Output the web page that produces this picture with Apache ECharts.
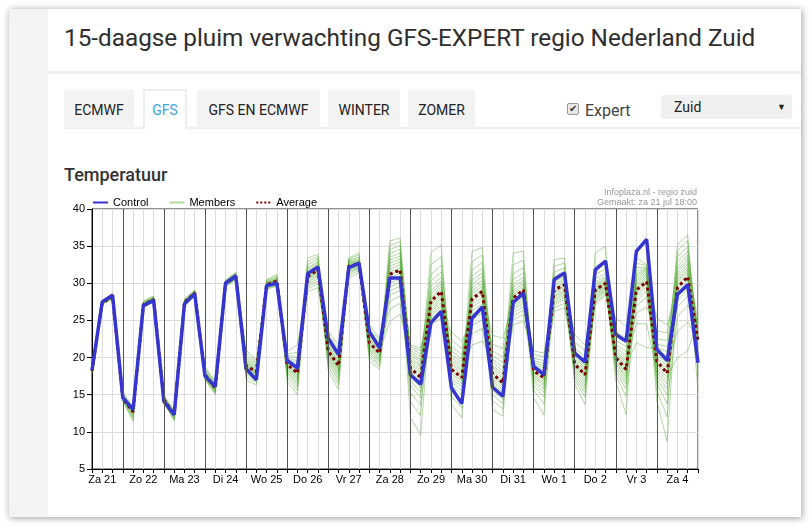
<!DOCTYPE html>
<html><head><meta charset="utf-8">
<script src="https://cdn.jsdelivr.net/npm/echarts@6/dist/echarts.min.js"></script>
<style>
html,body{margin:0;padding:0;width:809px;height:526px;overflow:hidden;background:#fff;font-family:Roboto,Arial,sans-serif;}
#card{position:absolute;left:9px;top:9px;width:792px;height:508px;background:#fff;box-shadow:1px 1px 7px rgba(0,0,0,0.4);}
#strip{position:absolute;left:9px;top:9px;width:39px;height:508px;background:#f3f3f3;}
#title{position:absolute;left:64px;top:24px;line-height:28px;font-size:24.3px;color:#2e2e2e;white-space:nowrap;}
#sep{position:absolute;left:48px;top:71px;width:753px;height:3px;background:#f0f0f0;}
.tab{position:absolute;top:90px;height:38px;line-height:40px;background:#f3f3f3;font-size:14px;color:#222;text-align:center;box-sizing:border-box;}
.tab.active{background:#fff;border:2px solid #eee;border-bottom:none;color:#3aa5dc;top:89px;height:40px;line-height:39px;}
#tabline{position:absolute;left:64px;top:127px;width:737px;height:2px;background:#eee;}
#expert{position:absolute;left:567px;top:101px;font-size:16px;color:#444;line-height:20px;white-space:nowrap;}
#cb{display:inline-block;width:10px;height:10px;border:1px solid #999;background:#e8e8e8;border-radius:2px;vertical-align:1px;margin-right:6px;position:relative;}
#cb:after{content:"\2714";position:absolute;left:1px;top:-5px;font-size:10px;color:#333;font-family:"DejaVu Sans";}
#sel{position:absolute;left:661px;top:95px;width:131px;height:24px;background:#f0f0f0;border-radius:2px;font-size:14px;color:#222;line-height:24px;}
#sel span.t{position:absolute;left:13px;}
#sel span.a{position:absolute;right:6px;font-size:9px;}
#sub{position:absolute;left:64px;top:163px;font-size:18px;font-weight:500;color:#333;line-height:24px;}
#chart{position:absolute;left:0;top:0;width:809px;height:526px;}
</style></head>
<body>
<div id="card"></div>
<div id="strip"></div>
<div id="title">15-daagse pluim verwachting GFS-EXPERT regio Nederland Zuid</div>
<div id="sep"></div>
<div id="tabline"></div>
<div class="tab" style="left:64px;width:70px;">ECMWF</div>
<div class="tab active" style="left:143px;width:44px;">GFS</div>
<div class="tab" style="left:197px;width:123px;">GFS EN ECMWF</div>
<div class="tab" style="left:328px;width:72px;">WINTER</div>
<div class="tab" style="left:408px;width:67px;">ZOMER</div>
<div id="expert"><span id="cb"></span>Expert</div>
<div id="sel"><span class="t">Zuid</span><span class="a">&#9660;</span></div>
<div id="sub">Temperatuur</div>
<div id="chart"></div>
<script>
// Day labels (one per day, centred at noon)
const dayLabels = ['Za 21','Zo 22','Ma 23','Di 24','Wo 25','Do 26','Vr 27','Za 28','Zo 29','Ma 30','Di 31','Wo 1','Do 2','Vr 3','Za 4'];
// Forecast times in hours after Za 21 00:00
const hours = [6,12,18,24,30,36,42,48,54,60,66,72,78,84,90,96,102,108,114,120,126,132,138,144,150,156,162,168,174,180,186,192,198,204,210,216,222,228,234,240,246,252,258,264,270,276,282,288,294,300,306,312,318,324,330,336,342,348,354,360];
const yTicks = [5,10,15,20,25,30,35,40];
const control = [18.3,27.5,28.4,14.6,13.0,27.0,27.7,14.1,12.3,27.2,28.6,17.5,16.1,30.0,31.0,18.5,17.0,29.7,30.0,19.6,18.6,31.3,32.2,22.6,20.4,32.1,32.7,23.5,21.3,30.7,30.7,17.7,16.4,24.7,26.2,15.9,13.8,25.3,26.8,16.0,14.8,27.4,28.7,18.8,17.7,30.5,31.4,20.6,19.4,31.8,33.0,23.1,22.2,34.3,35.9,21.1,19.6,28.5,29.8,19.3];
const average = [18.2,27.4,28.2,14.5,12.7,27.1,27.8,14.3,12.3,27.4,28.7,17.7,15.9,30.0,30.9,18.9,18.1,29.8,30.3,19.1,17.9,30.9,31.8,20.9,18.9,32.3,32.6,22.0,20.6,31.2,31.8,18.6,17.3,27.6,28.9,18.4,17.3,27.9,28.9,17.8,16.6,28.0,29.1,18.2,17.3,29.1,29.8,19.1,17.7,29.1,30.0,20.0,18.4,29.1,30.2,19.5,17.9,29.4,30.9,22.2];
// Ensemble members: one row per forecast time, one column per member (20 members)
const memberRows = [
[18.0,18.0,18.1,18.1,18.1,18.1,18.2,18.2,18.2,18.2,18.2,18.2,18.3,18.3,18.3,18.3,18.3,18.4,18.4,18.4],
[27.4,27.5,27.3,27.7,27.4,27.3,27.5,27.2,27.4,27.6,27.3,27.7,27.2,27.5,27.4,27.6,27.3,27.4,27.5,27.4],
[28.2,28.4,28.0,28.6,28.3,28.1,28.3,27.9,28.2,28.5,28.1,28.6,27.9,28.3,28.2,28.5,28.0,28.2,28.4,28.1],
[14.7,14.3,15.0,14.5,14.1,14.6,14.4,15.3,14.3,14.5,14.8,14.2,14.5,15.1,14.2,14.6,14.9,14.4,14.7,14.4],
[13.0,12.1,13.2,12.7,11.4,12.9,12.5,13.4,12.3,12.8,13.1,11.7,12.7,13.3,11.9,12.8,13.1,12.4,13.0,12.6],
[27.1,27.5,27.0,27.2,27.4,26.8,27.1,26.9,27.3,27.1,27.2,27.0,27.6,27.0,27.4,26.8,27.2,27.3,26.9,27.1],
[27.8,28.2,27.7,27.9,28.1,27.5,27.8,27.6,28.0,27.7,27.9,27.6,28.3,27.7,28.1,27.4,27.9,28.0,27.5,27.8],
[13.9,13.9,14.0,14.0,14.1,14.1,14.2,14.2,14.2,14.3,14.3,14.3,14.4,14.4,14.5,14.5,14.6,14.7,14.8,14.9],
[11.5,11.6,11.8,11.9,12.0,12.1,12.1,12.2,12.2,12.3,12.3,12.4,12.4,12.5,12.5,12.6,12.6,12.7,12.8,12.9],
[27.3,27.6,27.1,27.8,27.4,27.2,27.5,27.0,27.4,27.7,27.2,27.9,27.0,27.5,27.3,27.7,27.1,27.4,27.6,27.3],
[28.6,28.9,28.4,29.0,28.7,28.5,28.8,28.3,28.7,28.9,28.5,29.1,28.3,28.8,28.6,29.0,28.4,28.7,28.8,28.6],
[18.0,17.3,18.4,17.6,17.0,17.8,17.5,18.8,17.4,17.7,18.1,17.1,17.6,18.6,17.2,17.7,18.2,17.4,17.9,17.5],
[16.2,15.4,16.5,15.9,15.0,16.1,15.7,16.8,15.5,15.9,16.3,15.2,15.8,16.6,15.3,16.0,16.4,15.6,16.1,15.7],
[30.0,30.4,29.8,30.1,30.3,29.6,30.0,29.7,30.2,29.9,30.1,29.8,30.4,29.9,30.3,29.6,30.0,30.2,29.7,30.0],
[30.9,31.4,30.7,31.1,31.2,30.5,30.9,30.6,31.2,30.8,31.0,30.7,31.5,30.8,31.3,30.5,31.0,31.1,30.6,30.9],
[17.0,17.4,17.7,17.9,18.1,18.3,18.4,18.6,18.7,18.8,18.9,19.0,19.2,19.3,19.5,19.7,19.9,20.2,20.6,21.0],
[16.3,16.7,17.0,17.2,17.4,17.6,17.7,17.8,17.9,18.0,18.1,18.2,18.3,18.5,18.6,18.8,19.0,19.2,19.4,19.7],
[29.7,30.1,29.4,30.4,29.9,29.5,30.0,29.2,29.8,30.2,29.6,30.5,29.3,29.9,29.7,30.3,29.5,29.8,30.0,29.6],
[30.1,30.6,29.8,31.0,30.3,30.0,30.5,29.6,30.2,30.7,30.0,31.2,29.7,30.4,30.2,30.8,29.9,30.3,30.5,30.1],
[19.8,18.1,20.3,19.1,16.8,19.5,18.7,20.8,18.3,19.2,19.9,17.4,19.0,20.5,17.8,19.3,20.1,18.5,19.6,18.8],
[18.9,16.4,20.0,17.8,15.0,18.4,17.2,21.7,16.7,18.0,19.2,15.6,17.6,20.7,16.1,18.2,19.5,17.0,18.6,17.4],
[31.0,32.9,30.3,31.5,32.1,29.3,30.9,29.9,31.9,30.6,31.3,30.1,33.4,30.5,32.5,28.9,31.1,31.7,29.6,30.8],
[31.9,33.6,31.1,32.4,33.0,29.9,31.8,30.6,32.8,31.5,32.2,30.9,33.9,31.3,33.3,29.4,32.1,32.6,30.3,31.7],
[18.2,18.8,19.2,19.5,19.8,20.0,20.2,20.4,20.6,20.8,21.0,21.2,21.4,21.6,21.8,22.0,22.3,22.6,23.0,23.5],
[15.7,16.4,16.9,17.3,17.6,17.9,18.2,18.4,18.6,18.8,19.0,19.2,19.4,19.6,19.9,20.2,20.5,20.8,21.2,21.7],
[32.1,32.9,31.4,33.3,32.5,31.8,32.7,30.7,32.3,33.0,31.9,33.4,31.1,32.6,32.2,33.1,31.6,32.4,32.8,32.0],
[32.4,33.1,31.9,33.8,32.7,32.1,32.9,31.4,32.6,33.3,32.2,34.1,31.7,32.8,32.5,33.5,32.0,32.6,33.0,32.3],
[22.9,20.7,23.6,22.0,19.5,22.5,21.4,24.4,21.0,22.1,23.1,20.0,21.8,24.0,20.4,22.3,23.3,21.2,22.7,21.6],
[21.4,19.4,22.0,20.5,18.4,21.0,20.0,22.6,19.6,20.7,21.6,18.8,20.4,22.3,19.1,20.8,21.8,19.8,21.2,20.2],
[31.5,35.1,29.5,32.7,34.0,26.5,31.2,28.4,33.5,30.4,32.3,29.0,35.7,30.0,34.5,24.9,31.9,33.1,27.6,30.8],
[32.1,35.6,30.1,33.3,34.6,27.3,31.8,29.0,34.1,31.0,32.9,29.6,36.1,30.6,35.1,25.8,32.5,33.7,28.3,31.4],
[11.9,14.0,15.3,16.2,16.9,17.4,17.8,18.2,18.5,18.8,19.1,19.4,19.7,20.0,20.3,20.6,20.9,21.2,21.5,21.7],
[9.6,12.2,13.6,14.6,15.3,15.9,16.4,16.8,17.2,17.6,18.0,18.3,18.7,19.0,19.4,19.7,20.1,20.5,20.9,21.3],
[26.8,29.6,25.3,32.5,27.9,25.9,28.6,24.4,27.3,30.3,26.2,34.1,24.9,28.2,27.1,31.2,25.6,27.6,29.0,26.5],
[28.0,30.8,26.4,33.6,29.2,27.1,29.9,25.3,28.6,31.5,27.4,35.2,25.9,29.5,28.3,32.4,26.8,28.9,30.3,27.7],
[20.0,16.2,21.5,18.4,13.7,19.3,17.5,23.5,16.7,18.7,20.4,14.8,18.1,22.4,15.6,19.0,20.9,17.1,19.6,17.8],
[19.0,15.0,20.4,17.5,11.9,18.4,16.5,22.2,15.6,17.8,19.4,13.2,17.2,21.2,14.2,18.1,19.8,16.1,18.7,16.9],
[28.2,32.9,26.3,29.4,31.0,23.2,27.9,25.1,30.4,27.2,29.0,25.8,34.3,26.8,31.8,21.7,28.6,29.9,24.3,27.6],
[29.2,33.8,27.2,30.4,32.0,23.9,28.9,26.0,31.4,28.1,30.0,26.7,34.8,27.7,32.8,22.2,29.6,30.9,25.1,28.5],
[13.0,14.2,15.0,15.6,16.1,16.5,16.9,17.2,17.5,17.8,18.1,18.4,18.7,19.0,19.4,19.8,20.3,20.9,21.8,23.0],
[12.1,13.1,13.8,14.4,14.9,15.3,15.6,15.9,16.2,16.5,16.8,17.1,17.4,17.8,18.2,18.7,19.3,20.1,21.2,22.6],
[27.3,29.9,25.6,32.5,28.5,26.4,29.1,24.4,27.9,30.5,26.7,34.1,25.1,28.8,27.6,31.3,26.0,28.2,29.5,27.0],
[28.2,30.8,26.4,33.1,29.4,27.3,30.0,24.9,28.8,31.4,27.6,34.3,25.8,29.7,28.5,32.1,26.9,29.1,30.4,27.9],
[19.1,16.7,19.9,18.1,14.6,18.7,17.5,20.9,17.0,18.3,19.3,15.6,17.9,20.4,16.2,18.5,19.6,17.3,18.9,17.7],
[18.6,15.3,19.6,17.3,12.3,18.0,16.5,20.6,15.8,17.5,18.9,13.8,17.1,20.1,14.7,17.8,19.2,16.2,18.3,16.8],
[29.1,32.3,27.9,29.9,30.9,26.7,28.9,27.4,30.5,28.4,29.6,27.7,33.2,28.2,31.5,26.2,29.4,30.2,27.1,28.7],
[29.8,32.7,28.7,30.6,31.6,27.3,29.6,28.1,31.2,29.1,30.3,28.4,33.4,28.9,32.1,26.7,30.0,30.9,27.8,29.4],
[16.4,16.9,17.3,17.6,17.9,18.1,18.4,18.6,18.8,19.0,19.2,19.4,19.6,19.8,20.1,20.4,20.8,21.3,22.1,23.1],
[13.7,14.7,15.3,15.8,16.2,16.6,16.9,17.2,17.5,17.7,17.9,18.2,18.4,18.7,19.0,19.3,19.7,20.2,20.9,21.7],
[28.7,30.2,27.7,32.3,29.3,28.1,29.7,27.1,29.0,30.6,28.3,34.1,27.4,29.5,28.8,31.2,27.9,29.1,29.9,28.5],
[29.6,30.9,28.9,33.0,30.1,29.2,30.5,28.5,29.9,31.3,29.4,35.0,28.7,30.3,29.8,31.9,29.1,30.0,30.7,29.5],
[21.0,18.5,22.3,19.9,16.8,20.5,19.3,25.3,18.8,20.1,21.3,17.6,19.7,23.4,18.1,20.3,21.7,19.1,20.7,19.5],
[19.9,16.4,21.5,18.5,12.3,19.3,17.6,24.2,16.9,18.8,20.3,14.8,18.2,22.7,15.8,19.0,20.8,17.3,19.6,17.9],
[29.7,32.7,28.1,30.6,31.6,24.6,29.4,26.9,31.2,28.8,30.3,27.6,33.4,28.5,32.1,22.0,30.0,30.9,26.0,29.1],
[31.2,32.4,29.6,31.8,32.1,24.5,31.0,28.2,32.0,30.4,31.6,29.0,32.5,30.0,32.2,21.3,31.4,31.9,26.8,30.7],
[14.1,15.6,16.5,17.1,17.6,18.0,18.4,18.7,19.0,19.3,19.6,19.9,20.2,20.5,20.9,21.3,21.8,22.5,23.6,25.3],
[8.7,12.0,13.8,15.0,15.8,16.4,16.9,17.4,17.8,18.2,18.6,19.0,19.4,19.8,20.3,20.8,21.5,22.3,23.3,24.4],
[29.3,32.3,25.5,34.4,30.6,27.7,31.4,20.0,30.0,32.9,28.4,35.2,23.5,31.0,29.7,33.6,26.8,30.3,31.8,28.9],
[30.8,33.8,27.0,35.7,32.2,29.2,33.0,20.9,31.6,34.3,29.9,36.5,24.8,32.6,31.2,34.9,28.3,31.9,33.4,30.4],
[23.9,19.5,24.7,22.4,15.5,23.3,21.3,25.0,20.2,22.7,24.2,17.4,22.1,24.9,18.6,23.0,24.5,20.8,23.6,21.7]
];

const FONT = '"Liberation Sans", Arial, sans-serif';
const chart = echarts.init(document.getElementById('chart'), null, {renderer: 'canvas'});
const memberCount = memberRows[0].length;
const series = [];
for (let m = 0; m < memberCount; m++) {
  const s = {
    name: 'Members', type: 'line', showSymbol: false, symbol: 'none', silent: true, z: 2,
    emphasis: {disabled: true},
    lineStyle: {width: 1, color: '#55a832', opacity: 0.45},
    itemStyle: {color: '#55a832'},
    data: hours.map((h, t) => [h, memberRows[t][m]])
  };
  if (m === 0) {
    s.markLine = {
      silent: true, symbol: 'none', label: {show: false}, animation: false,
      emphasis: {disabled: true},
      lineStyle: {color: '#555', width: 1, type: 'solid', opacity: 1},
      data: dayLabels.slice(1).map((d, i) => ({xAxis: (i + 1) * 24}))
    };
  }
  series.push(s);
}
series.push({
  name: 'Average', type: 'line', showSymbol: false, symbol: 'none', silent: true, z: 3,
  emphasis: {disabled: true},
  lineStyle: {width: 3, color: '#7a0000', type: 'dotted'},
  itemStyle: {color: '#7a0000'},
  data: hours.map((h, i) => [h, average[i]])
});
series.push({
  name: 'Control', type: 'line', showSymbol: false, symbol: 'none', silent: true, z: 4,
  emphasis: {disabled: true},
  lineStyle: {width: 3.5, color: '#3535cf'},
  itemStyle: {color: '#3535cf'},
  data: hours.map((h, i) => [h, control[i]])
});

chart.setOption({
  animation: false,
  textStyle: {fontFamily: FONT},
  grid: {left: 92, top: 209, width: 606, height: 260, show: true, borderColor: '#222', borderWidth: 1, backgroundColor: 'transparent'},
  legend: {
    data: ['Control', 'Members', 'Average'], left: 92, top: 197, padding: 0,
    itemWidth: 15, itemHeight: 10, itemGap: 20, selectedMode: false,
    itemStyle: {opacity: 0},
    textStyle: {fontSize: 11, color: '#000', fontFamily: FONT}
  },
  graphic: [
    {type: 'text', x: 697, y: 193, silent: true, style: {text: 'Infoplaza.nl - regio zuid', fill: '#999', font: '9px ' + FONT, textAlign: 'right', textVerticalAlign: 'middle', align: 'right', verticalAlign: 'middle'}},
    {type: 'text', x: 697, y: 202.5, silent: true, style: {text: 'Gemaakt: za 21 jul 18:00', fill: '#999', font: '9px ' + FONT, textAlign: 'right', textVerticalAlign: 'middle', align: 'right', verticalAlign: 'middle'}}
  ],
  xAxis: {
    type: 'value', min: hours[0], max: hours[hours.length - 1], interval: 6,
    axisLine: {show: true, lineStyle: {color: '#000', width: 1}},
    axisTick: {show: true, length: 4, lineStyle: {color: '#000'}},
    axisLabel: {
      color: '#000', fontSize: 11, margin: 5, fontFamily: FONT, showMinLabel: true, showMaxLabel: true,
      formatter: v => ((v - 12) % 24 === 0 ? (dayLabels[(v - 12) / 24] || '') : '')
    },
    splitLine: {show: true, lineStyle: {color: '#ddd', width: 1}}
  },
  yAxis: {
    type: 'value', min: yTicks[0], max: yTicks[yTicks.length - 1], interval: 5,
    axisLine: {show: true, lineStyle: {color: '#000', width: 1}},
    axisTick: {show: true, length: 5, lineStyle: {color: '#000'}},
    axisLabel: {color: '#000', fontSize: 11, margin: 7, fontFamily: FONT},
    splitLine: {show: true, lineStyle: {color: '#ddd', width: 1}}
  },
  series: series
});
</script>
</body></html>
